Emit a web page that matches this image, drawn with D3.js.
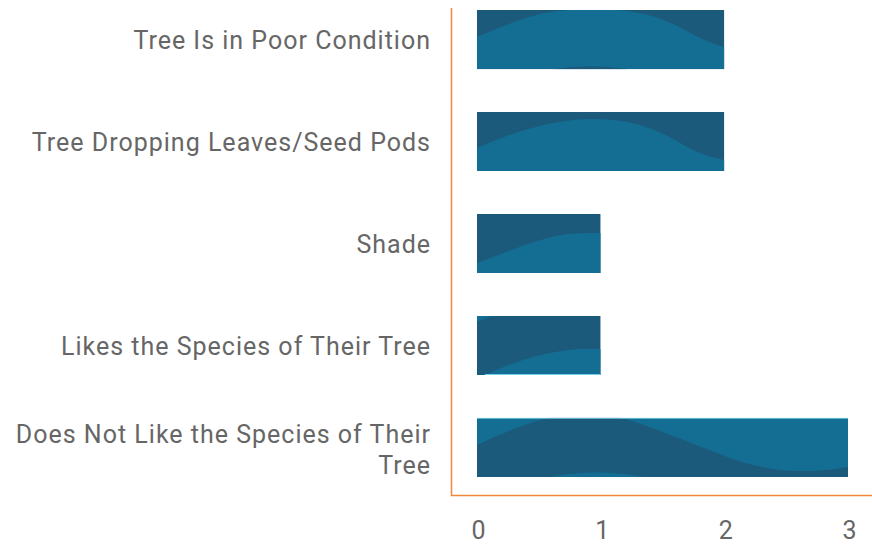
<!DOCTYPE html>
<html>
<head>
<meta charset="utf-8">
<script src="https://cdn.jsdelivr.net/npm/d3@7"></script>
<style>
  body { margin: 0; background: #fff; }
  svg { display: block; }
  .label, .tick text { font-family: Roboto, sans-serif; fill: #666; }
</style>
</head>
<body>
<div id="chart"></div>
<script>
'use strict';

// data
const categories = [
  'Tree Is in Poor Condition',
  'Tree Dropping Leaves/Seed Pods',
  'Shade',
  'Likes the Species of Their Tree',
  'Does Not Like the Species of Their Tree'
];
const counts = [2, 2, 1, 1, 3];
const xTicks = [0, 1, 2, 3];

// colours
const dark = '#1b5a7a', light = '#146d93', orange = '#f0883e';

// wave texture drawn on each bar (local px, not data)
const textures = [
  { base: dark, shapes: [
    { fill: light, d: 'M0,27 C35,12 60,2 90,0 L140,0 C170,2 195,12 215,24 C230,32 240,35 247,37 L247,59 L0,59 Z' },
    { fill: dark, d: 'M76,59 C100,55 125,55 150,59 Z' } ] },
  { base: dark, shapes: [
    { fill: light, d: 'M0,36 C40,18 80,7 116,7 C160,7 185,20 210,35 C225,43 238,46 247,48 L247,59 L0,59 Z' } ] },
  { base: dark, shapes: [
    { fill: light, d: 'M0,49 C25,40 55,26 90,20 C105,19 115,19 124,19 L124,59 L0,59 Z' } ] },
  { base: dark, shapes: [
    { fill: light, d: 'M0,0 L0,6 C5,4 10,2 15,0 Z' },
    { fill: light, d: 'M8,59 C35,46 70,35 103,33 L124,33 L124,59 Z' },
    { fill: '#72cfe6', d: 'M8,58 L124,58 L124,59 L8,59 Z' } ] },
  { base: light, shapes: [
    { fill: dark, d: 'M0,27 C20,18 45,6 73,0 L143,0 C165,5 200,20 240,35 C270,47 295,53 323,53 C345,53 360,51 371,49 L371,59 L0,59 Z' },
    { fill: light, d: 'M73,59 C100,53 140,53 166,59 Z' },
    { fill: '#72cfe6', d: 'M0,0 L371,0 L371,1 L0,1 Z' } ] }
];

const width = 872, height = 548;

const svg = d3.select('#chart').append('svg')
  .attr('width', width)
  .attr('height', height);

const x = d3.scaleLinear()
  .domain([0, 3])
  .range([477, 848]);

const y = d3.scaleBand()
  .domain(categories)
  .range([10, 477])
  .paddingInner(0.42)
  .paddingOuter(0);

const defs = svg.append('defs');

// bars
const bars = svg.append('g').selectAll('g')
  .data(categories)
  .join('g')
  .attr('transform', d => 'translate(' + x(0) + ',' + y(d) + ')');

bars.each(function (d, i) {
  const g = d3.select(this);
  const w = x(counts[i]) - x(0), h = y.bandwidth();
  defs.append('clipPath').attr('id', 'clip' + i)
    .append('rect').attr('width', w).attr('height', h);
  const inner = g.append('g').attr('clip-path', 'url(#clip' + i + ')');
  inner.append('rect')
    .attr('width', w)
    .attr('height', h)
    .attr('fill', textures[i].base);
  // scale texture to actual bar size
  const refW = [247, 247, 124, 124, 371][i];
  const t = inner.append('g').attr('transform', 'scale(' + (w / refW) + ',' + (h / 59) + ')');
  textures[i].shapes.forEach(s => t.append('path').attr('d', s.d).attr('fill', s.fill));
});

// category labels
const labelX = 431;
svg.append('g').selectAll('text')
  .data(categories)
  .join('text')
  .attr('class', 'label')
  .attr('text-anchor', 'end')
  .attr('font-size', 25)
  .attr('letter-spacing', 1)
  .each(function (d) {
    const lines = d === 'Does Not Like the Species of Their Tree'
      ? ['Does Not Like the Species of Their', 'Tree'] : [d];
    const cy = y(d) + y.bandwidth() / 2 + (lines.length > 1 ? 2.5 : 0.5);
    const lh = 31;
    const t = d3.select(this);
    lines.forEach((ln, k) => {
      t.append('tspan')
        .attr('x', labelX)
        .attr('y', cy + (k - (lines.length - 1) / 2) * lh)
        .attr('dy', '0.35em')
        .text(ln);
    });
  });

// x axis ticks
const xAxis = svg.append('g')
  .attr('transform', 'translate(1,495)')
  .call(d3.axisBottom(x).tickValues(xTicks).tickFormat(d3.format('d')).tickSize(0).tickPadding(26));
xAxis.select('.domain').remove();
xAxis.selectAll('.tick text').attr('font-size', 25).attr('font-family', 'Roboto, sans-serif');

// axis lines
svg.append('line')
  .attr('x1', 451.5).attr('x2', 451.5)
  .attr('y1', 8).attr('y2', 495.5)
  .attr('stroke', orange).attr('stroke-width', 1.5);
svg.append('line')
  .attr('x1', 451).attr('x2', width)
  .attr('y1', 495.5).attr('y2', 495.5)
  .attr('stroke', orange).attr('stroke-width', 1.5);
</script>
</body>
</html>
